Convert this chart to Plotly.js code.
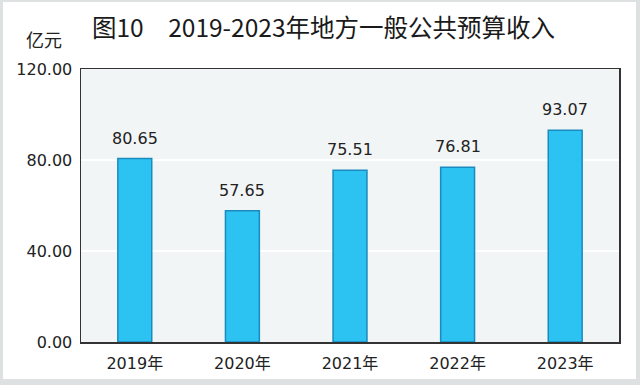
<!DOCTYPE html>
<html>
<head>
<meta charset="utf-8">
<script src="https://cdn.plot.ly/plotly-3.0.1.min.js"></script>
<style>
html,body{margin:0;padding:0;background:#dde1e1;width:640px;height:385px;overflow:hidden;}
#chart{position:absolute;left:3px;top:2px;width:633px;height:377px;background:#fff;}
</style>
</head>
<body>
<div id="chart"></div>
<script>
const categories = ["2019年", "2020年", "2021年", "2022年", "2023年"];
const values = [80.65, 57.65, 75.51, 76.81, 93.07];
const valueLabels = ["80.65", "57.65", "75.51", "76.81", "93.07"];
const yTicks = [0, 40, 80, 120];
const yTickLabels = ["0.00", "40.00", "80.00", "120.00"];

const tickFont = {family: "DejaVu Sans, Noto Sans CJK SC, sans-serif", size: 16, color: "#222"};

const trace = {
  type: "bar",
  x: categories,
  y: values,
  width: 0.315,
  marker: {color: "#2cc3f3", line: {color: "#1a8bbf", width: 1.5}},
  hoverinfo: "none"
};

const annotations = categories.map((c, i) => ({
  x: c, y: values[i], xref: "x", yref: "y",
  text: valueLabels[i], showarrow: false,
  yanchor: "bottom", yshift: 9,
  font: {family: "DejaVu Sans, sans-serif", size: 16, color: "#222"}
}));
annotations.push({
  xref: "paper", yref: "paper", x: -0.068, y: 1.055,
  xanchor: "center", yanchor: "bottom",
  text: "亿元", showarrow: false,
  font: {family: "Noto Sans CJK SC, sans-serif", size: 18, color: "#222"}
});

const layout = {
  width: 633, height: 377,
  margin: {l: 78, r: 17, t: 67, b: 37, pad: 0},
  paper_bgcolor: "#ffffff",
  plot_bgcolor: "#f2f5f5",
  showlegend: false,
  title: {
    text: "图10　2019-2023年地方一般公共预算收入",
    xref: "container", yref: "container",
    x: 89 / 633, xanchor: "left",
    y: 1 - 26 / 377, yanchor: "middle",
    font: {family: "Noto Sans CJK SC, sans-serif", size: 24.5, color: "#1a1a1a"}
  },
  xaxis: {
    type: "category",
    range: [-0.5, 4.5],
    showgrid: false,
    showline: true, linecolor: "#333", linewidth: 1.5, mirror: true,
    ticks: "", ticklabelstandoff: 6,
    tickfont: tickFont,
    fixedrange: true
  },
  yaxis: {
    range: [0, 120],
    tickvals: yTicks, ticktext: yTickLabels,
    showgrid: true, gridcolor: "#ffffff", gridwidth: 2,
    zeroline: false,
    showline: true, linecolor: "#333", linewidth: 1.5, mirror: true,
    ticks: "", ticklabelstandoff: 4,
    tickfont: tickFont,
    fixedrange: true
  },
  annotations: annotations,
  bargap: 0.5
};

Plotly.newPlot("chart", [trace], layout, {staticPlot: true, displayModeBar: false});
</script>
</body>
</html>
